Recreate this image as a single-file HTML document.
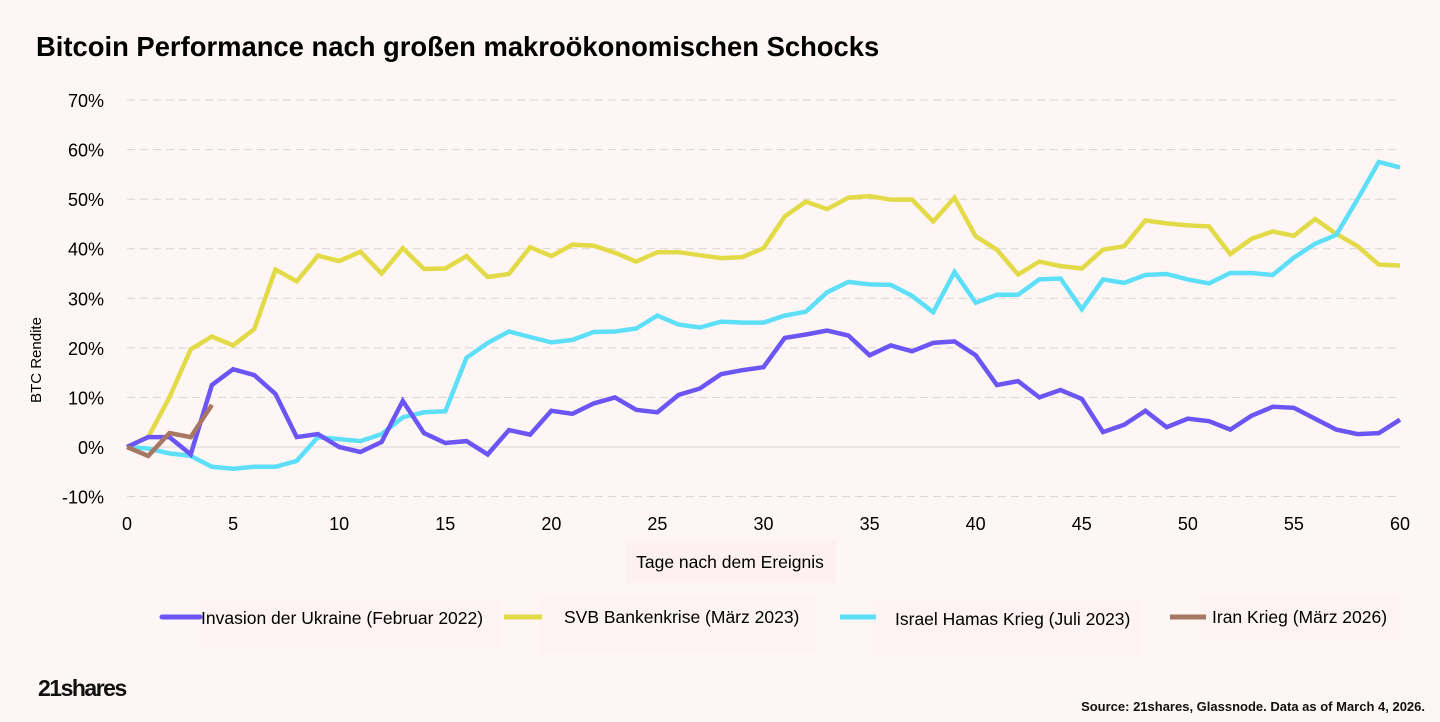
<!DOCTYPE html>
<html><head><meta charset="utf-8"><style>
body{margin:0;background:#fdf6f4;font-family:"Liberation Sans",sans-serif;}
#wrap{position:relative;width:1440px;height:722px;overflow:hidden;background:#fdf6f4;}
</style></head><body>
<div id="wrap">
<svg id="chart" width="1440" height="722">
<text x="36" y="56" font-size="27.4" font-weight="bold" fill="#000">Bitcoin Performance nach großen makroökonomischen Schocks</text>
<g id="grid"></g><g id="ticks"></g><g id="lines"></g>
<text transform="translate(41,360) rotate(-90)" text-anchor="middle" font-size="15" fill="#000">BTC Rendite</text>
<rect x="626" y="541" width="210" height="42" fill="#fcf1f0"/>
<text x="730" y="568" text-anchor="middle" font-size="17.5" fill="#000">Tage nach dem Ereignis</text>
<g>
<rect x="200" y="600" width="300" height="48" fill="#fcf3f2"/>
<rect x="540" y="597" width="275" height="57" fill="#fcf3f2"/>
<rect x="872" y="600" width="270" height="56" fill="#fcf3f2"/>
<rect x="1200" y="597" width="200" height="43" fill="#fcf3f2"/>
<g><line x1="162" y1="617" x2="200" y2="617" stroke="#6b55f5" stroke-width="5" stroke-linecap="round"/><text x="201" y="624" font-size="17.5">Invasion der Ukraine (Februar 2022)</text></g>
<g><line x1="504" y1="617" x2="542" y2="617" stroke="#e3da48" stroke-width="5"/><text x="564" y="623" font-size="17.5">SVB Bankenkrise (März 2023)</text></g>
<g><line x1="840" y1="617" x2="876" y2="617" stroke="#5ddff8" stroke-width="5"/><text x="895" y="625" font-size="17.5">Israel Hamas Krieg (Juli 2023)</text></g>
<g><line x1="1170" y1="617" x2="1206" y2="617" stroke="#a87763" stroke-width="5"/><text x="1212" y="623" font-size="17.5">Iran Krieg (März 2026)</text></g>
</g>
<text x="38" y="696" font-size="23" font-weight="bold" letter-spacing="-1.5" fill="#111">21shares</text>
<text x="1425" y="711" text-anchor="end" font-size="13" font-weight="bold" fill="#111">Source: 21shares, Glassnode. Data as of March 4, 2026.</text>
</svg>
</div>
<script>
const days=[];for(let i=0;i<=60;i++)days.push(i);
const yTicks=[-10,0,10,20,30,40,50,60,70];
const xTicks=[0,5,10,15,20,25,30,35,40,45,50,55,60];
const ukraine=[0,2,2,-1.5,12.5,15.7,14.5,10.7,2,2.6,0,-1,1,9.3,2.8,0.8,1.2,-1.5,3.4,2.5,7.3,6.7,8.8,10,7.5,7,10.5,11.8,14.7,15.5,16.1,22,22.7,23.5,22.5,18.5,20.5,19.3,21,21.3,18.5,12.5,13.3,10,11.5,9.7,3,4.5,7.3,4,5.7,5.2,3.5,6.3,8.1,7.9,5.7,3.5,2.6,2.8,5.5];
const svb=[0,2,10,19.7,22.3,20.5,23.8,35.8,33.4,38.6,37.5,39.4,35,40.1,35.9,36,38.5,34.3,34.9,40.3,38.5,40.8,40.6,39.2,37.4,39.3,39.3,38.7,38.1,38.3,40.1,46.5,49.5,48,50.3,50.6,49.9,49.9,45.5,50.3,42.5,39.8,34.8,37.4,36.5,36,39.8,40.5,45.7,45.1,44.7,44.5,38.9,42,43.5,42.6,46,43,40.5,36.8,36.6];
const israel=[0,-0.3,-1.3,-1.8,-4,-4.4,-4,-4,-2.8,2,1.6,1.2,2.6,6,7,7.2,18,21,23.3,22.2,21.1,21.6,23.2,23.3,23.9,26.5,24.7,24.1,25.3,25.1,25.1,26.5,27.3,31.2,33.3,32.8,32.7,30.5,27.2,35.3,29.1,30.7,30.7,33.8,34,27.8,33.8,33.1,34.7,34.9,33.8,33,35.1,35.1,34.7,38.2,41,42.8,50,57.5,56.4];
const iran=[0,-1.8,2.8,2,8.5];
const NS="http://www.w3.org/2000/svg";
const X=d=>127+d*(1400-127)/60;
const Y=v=>447-v*(447-100)/70;
function mk(t,a,p){const e=document.createElementNS(NS,t);for(const k in a)e.setAttribute(k,a[k]);p.appendChild(e);return e;}
const grid=document.getElementById('grid'),ticks=document.getElementById('ticks'),lines=document.getElementById('lines');
yTicks.forEach(v=>{
 const l=mk('line',{x1:127,x2:1400,y1:Y(v),y2:Y(v),stroke:'#d9d4d3','stroke-width':1,'stroke-dasharray':v===0?'':'8 5'},grid);
 
 
 const t=mk('text',{x:104,y:Y(v)+7,'text-anchor':'end','font-size':18,fill:'#000'},ticks);t.textContent=v+'%';
 
 
});
xTicks.forEach(d=>{
 const t=mk('text',{x:X(d),y:530,'text-anchor':'middle','font-size':18,fill:'#000'},ticks);t.textContent=d;
 
 
});
function series(vals,color,name){
 const pts=vals.map((v,i)=>X(days[i]).toFixed(1)+','+Y(v).toFixed(1)).join(' ');
 const p=mk('polyline',{points:pts,fill:'none',stroke:color,'stroke-width':4.5,'stroke-linejoin':'miter'},lines);
 
 
}
series(svb,'#e3da48','line-svb');
series(israel,'#5ddff8','line-israel');
series(ukraine,'#6b55f5','line-ukraine');
series(iran,'#a87763','line-iran');
</script>
</body></html>
